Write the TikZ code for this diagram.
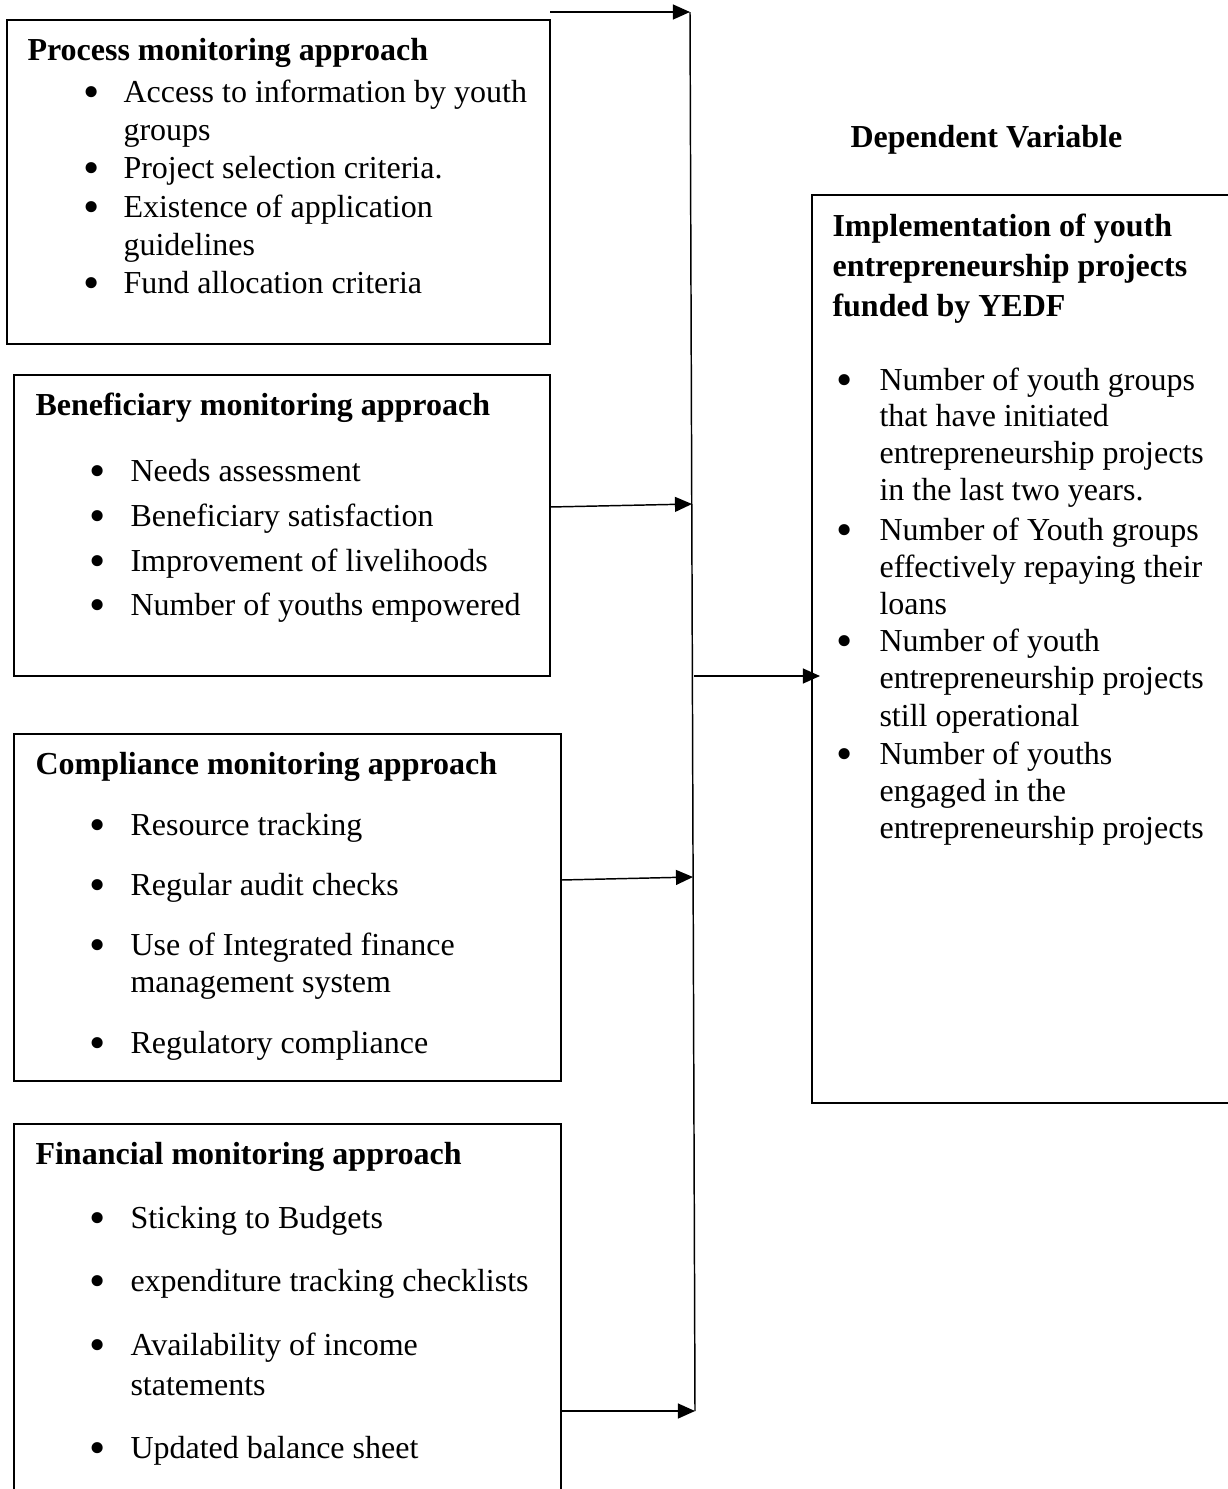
\documentclass[tikz,border=0pt]{standalone}
\usepackage{fontspec}
\setmainfont{Liberation Serif}
\usetikzlibrary{arrows.meta,fit}
\begin{document}
\begin{tikzpicture}[x=0.375pt,y=-0.375pt,
 box/.style={draw,line width=0.55pt,inner sep=0pt},
 txt/.style={anchor=base west,inner sep=0pt,font=\fontsize{12pt}{14.4pt}\selectfont},
 ttl/.style={anchor=base west,inner sep=0pt,font=\fontsize{12pt}{14.4pt}\selectfont\bfseries},
 bul/.style={anchor=center,inner sep=0pt,yshift=5*0.375pt,font=\fontsize{12pt}{14.4pt}\selectfont},
 arr/.style={line width=0.55pt,-{Triangle[length=6.4pt,width=5.6pt]}},
 ln/.style={line width=0.55pt}]
\useasboundingbox (0,0) rectangle (1228,1489);
\newcommand{\bigbul}{\scalebox{1.45}{\textbullet}}
% boxes
\node[box,fit={(7,20) (550,344)}] (b1) {};
\node[box,fit={(14,375) (550,676)}] (b2) {};
\node[box,fit={(14,734) (561,1081)}] (b3) {};
\node[box,fit={(14,1124) (561,1520)}] (b4) {};
\node[box,fit={(812,195) (1260,1103)}] (dv) {};
% box 1
\node[ttl] (t1) at (27,60) {Process monitoring approach};
\node[bul] (p1) at (92,102) {\bigbul};
\node[bul] (p2) at (92,178) {\bigbul};
\node[bul] (p3) at (92,217) {\bigbul};
\node[bul] (p4) at (92,293) {\bigbul};
\node[txt] (a1) at (123,102) {Access to information by youth};
\node[txt] (a2) at (123,140) {groups};
\node[txt] (a3) at (123,178) {Project selection criteria.};
\node[txt] (a4) at (123,217) {Existence of application};
\node[txt] (a5) at (123,255) {guidelines};
\node[txt] (a6) at (123,293) {Fund allocation criteria};
% box 2
\node[ttl] (t2) at (35,415) {Beneficiary monitoring approach};
\node[bul] (q1) at (98,481) {\bigbul};
\node[bul] (q2) at (98,526) {\bigbul};
\node[bul] (q3) at (98,571) {\bigbul};
\node[bul] (q4) at (98,615) {\bigbul};
\node[txt] (c1) at (130,481) {Needs assessment};
\node[txt] (c2) at (130,526) {Beneficiary satisfaction};
\node[txt] (c3) at (130,571) {Improvement of livelihoods};
\node[txt] (c4) at (130,615) {Number of youths empowered};
% box 3
\node[ttl] (t3) at (35,774) {Compliance monitoring approach};
\node[bul] (r1) at (98,835) {\bigbul};
\node[bul] (r2) at (98,895) {\bigbul};
\node[bul] (r3) at (98,955) {\bigbul};
\node[bul] (r4) at (98,1053) {\bigbul};
\node[txt] (d1) at (130,835) {Resource tracking};
\node[txt] (d2) at (130,895) {Regular audit checks};
\node[txt] (d3) at (130,955) {Use of Integrated finance};
\node[txt] (d4) at (130,992) {management system};
\node[txt] (d5) at (130,1053) {Regulatory compliance};
% box 4
\node[ttl] (t4) at (35,1164) {Financial monitoring approach};
\node[bul] (s1) at (98,1228) {\bigbul};
\node[bul] (s2) at (98,1291) {\bigbul};
\node[bul] (s3) at (98,1355) {\bigbul};
\node[bul] (s4) at (98,1458) {\bigbul};
\node[txt] (e1) at (130,1228) {Sticking to Budgets};
\node[txt] (e2) at (130,1291) {expenditure tracking checklists};
\node[txt] (e3) at (130,1355) {Availability of income};
\node[txt] (e4) at (130,1395) {statements};
\node[txt] (e5) at (130,1458) {Updated balance sheet};
% dependent variable
\node[ttl] (dvh) at (850,147) {Dependent Variable};
\node[ttl] (g1) at (832,236) {Implementation of youth};
\node[ttl] (g2) at (832,276) {entrepreneurship projects};
\node[ttl] (g3) at (832,316) {funded by YEDF};
\node[bul] (u1) at (845,390) {\bigbul};
\node[bul] (u2) at (845,540) {\bigbul};
\node[bul] (u3) at (845,651) {\bigbul};
\node[bul] (u4) at (845,764) {\bigbul};
\node[txt] (h1) at (879,390) {Number of youth groups};
\node[txt] (h2) at (879,426) {that have initiated};
\node[txt] (h3) at (879,463) {entrepreneurship projects};
\node[txt] (h4) at (879,500) {in the last two years.};
\node[txt] (h5) at (879,540) {Number of Youth groups};
\node[txt] (h6) at (879,577) {effectively repaying their};
\node[txt] (h7) at (879,614) {loans};
\node[txt] (h8) at (879,651) {Number of youth};
\node[txt] (h9) at (879,688) {entrepreneurship projects};
\node[txt] (h10) at (879,726) {still operational};
\node[txt] (h11) at (879,764) {Number of youths};
\node[txt] (h12) at (879,801) {engaged in the};
\node[txt] (h13) at (879,838) {entrepreneurship projects};
% connectors
\coordinate (o1) at (550,12);
\coordinate (vt) at (690,12);
\coordinate (vb) at (695,1411);
\coordinate (o2) at (550,507);
\coordinate (j2) at (692,504);
\coordinate (o3) at (561,880);
\coordinate (j3) at (693,877);
\coordinate (o4) at (561,1411);
\coordinate (jo) at (694,676);
\coordinate (dvin) at (820,676);
\draw[ln] (vt) -- (vb);
\draw[arr] (o1) -- (vt);
\draw[arr] (o2) -- (j2);
\draw[arr] (o3) -- (j3);
\draw[arr] (o4) -- (vb);
\draw[arr] (jo) -- (dvin);
\end{tikzpicture}
\end{document}
